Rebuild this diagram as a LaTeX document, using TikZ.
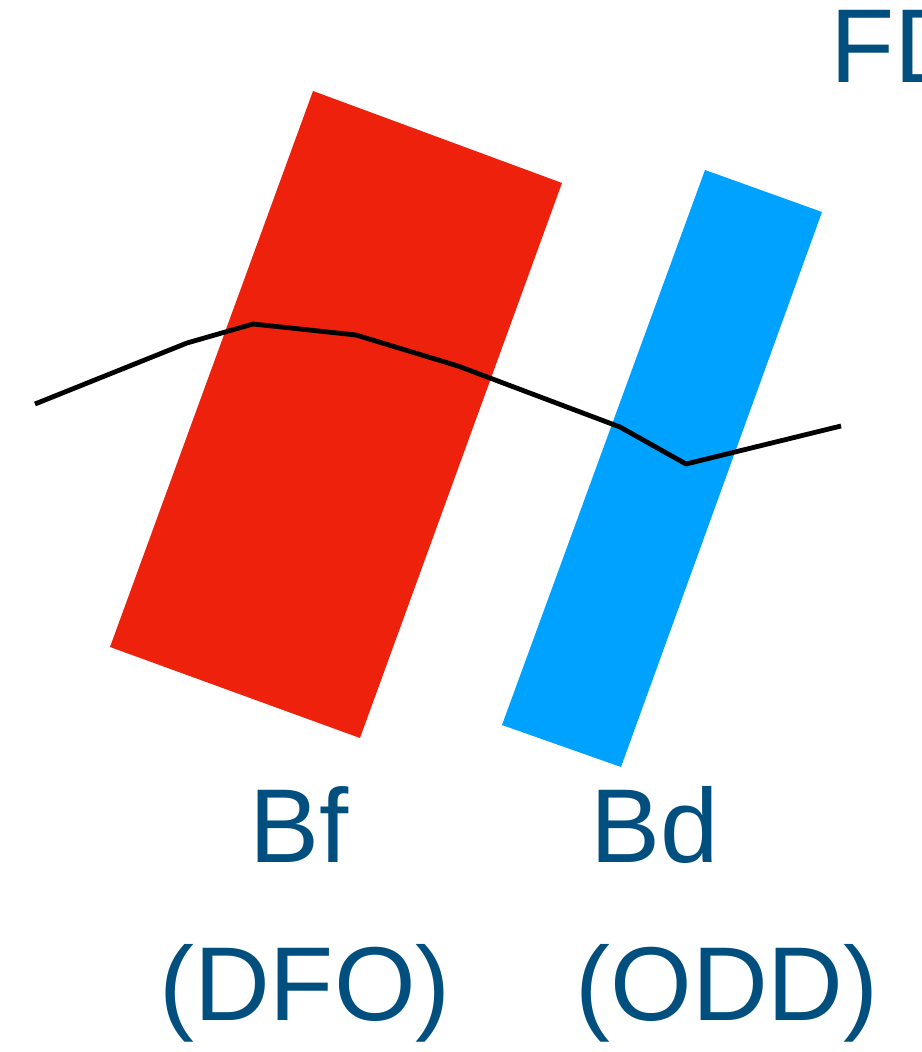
\documentclass[tikz,border=0pt]{standalone}
\usepackage{fontspec}
\setmainfont{Liberation Sans}
\usepackage{xcolor}
\definecolor{barred}{HTML}{EE220C}
\definecolor{barblue}{HTML}{00A2FF}
\definecolor{labelblue}{HTML}{004F7F}

\begin{document}
\begin{tikzpicture}[
    x=0.5pt, y=-0.5pt,
    label/.style={
        text=labelblue, inner sep=0pt, anchor=base,
        font=\fontsize{52.5pt}{60pt}\selectfont
    },
    profile/.style={black, line width=2.4pt, line join=round}
]
\useasboundingbox (0,0) rectangle (921,1052);
\clip (0,0) rectangle (921,1052);

% Tilted blocks
\fill[barred] (313,91) -- (562,183) -- (360,738) -- (110,647) -- cycle;
\fill[barblue] (705,170) -- (822,212) -- (621,767) -- (502,725) -- cycle;

% Profile line
\draw[profile] (35,404) -- (187,343) -- (253,324) -- (356,335) -- (458,366)
    -- (620,427) -- (686,464) -- (841,426);

% Labels
\node[label, anchor=base west] (fd) at (830,83) {FD};
\node[label] (bf) at (299,862) {Bf};
\node[label] (bd) at (655,862) {Bd};
\node[label] (dfo) at (305,1020) {(DFO)};
\node[label] (odd) at (727,1020) {(ODD)};

\end{tikzpicture}
\end{document}
